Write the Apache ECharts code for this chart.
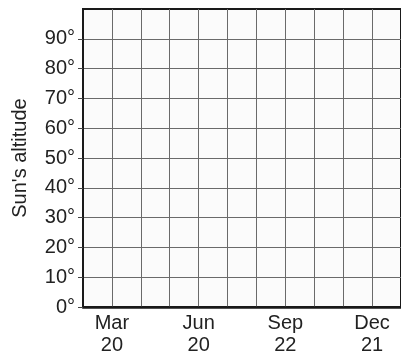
<!DOCTYPE html>
<html>
<head>
<meta charset="utf-8">
<script src="https://cdn.jsdelivr.net/npm/echarts@6/dist/echarts.min.js"></script>
<style>
html,body{margin:0;padding:0;background:#fff;}
#chart{width:401px;height:356px;}
</style>
</head>
<body>
<div id="chart"></div>
<script>
// Month gridline positions (one unit per month starting before Mar 20)
const xLabelPositions = [1, 4, 7, 10];
const xLabels = ['Mar\n20', 'Jun\n20', 'Sep\n22', 'Dec\n21'];
const yTickValues = [0, 10, 20, 30, 40, 50, 60, 70, 80, 90];
const yAxisName = "Sun's altitude";
const seriesValues = []; // empty worksheet: no plotted data

const chart = echarts.init(document.getElementById('chart'), null, {renderer: 'canvas'});
const font = '"Liberation Sans", Arial, Helvetica, sans-serif';

chart.setOption({
  animation: false,
  backgroundColor: '#ffffff',
  grid: {
    left: 83, right: -6, top: 9, bottom: 49,
    show: true, borderColor: '#1a1a1a', borderWidth: 2, backgroundColor: '#fbfbfb'
  },
  xAxis: {
    type: 'value', min: 0, max: 11, interval: 1,
    axisLine: {show: true, lineStyle: {color: '#1a1a1a', width: 2.5}},
    axisTick: {show: false},
    splitLine: {show: true, lineStyle: {color: '#6a6a6a', width: 1}},
    axisLabel: {
      customValues: xLabelPositions,
      color: '#222', fontFamily: font, fontSize: 20, lineHeight: 22, margin: 5,
      formatter: function (v) {
        const i = xLabelPositions.indexOf(v);
        return i >= 0 ? xLabels[i] : '';
      }
    }
  },
  yAxis: {
    type: 'value', min: 0, max: 100, interval: 10,
    name: yAxisName, nameLocation: 'middle', nameGap: 53,
    nameTextStyle: {color: '#222', fontFamily: font, fontSize: 20},
    axisLine: {show: true, lineStyle: {color: '#1a1a1a', width: 2}},
    axisTick: {show: true, inside: false, length: 5, customValues: yTickValues, lineStyle: {color: '#444'}},
    splitLine: {show: true, lineStyle: {color: '#6a6a6a', width: 1}},
    axisLabel: {
      customValues: yTickValues,
      color: '#222', fontFamily: font, fontSize: 20, margin: 8,
      formatter: function (v) {
        return v + '°';
      }
    }
  },
  series: [{type: 'line', data: seriesValues}]
});
</script>
</body>
</html>
